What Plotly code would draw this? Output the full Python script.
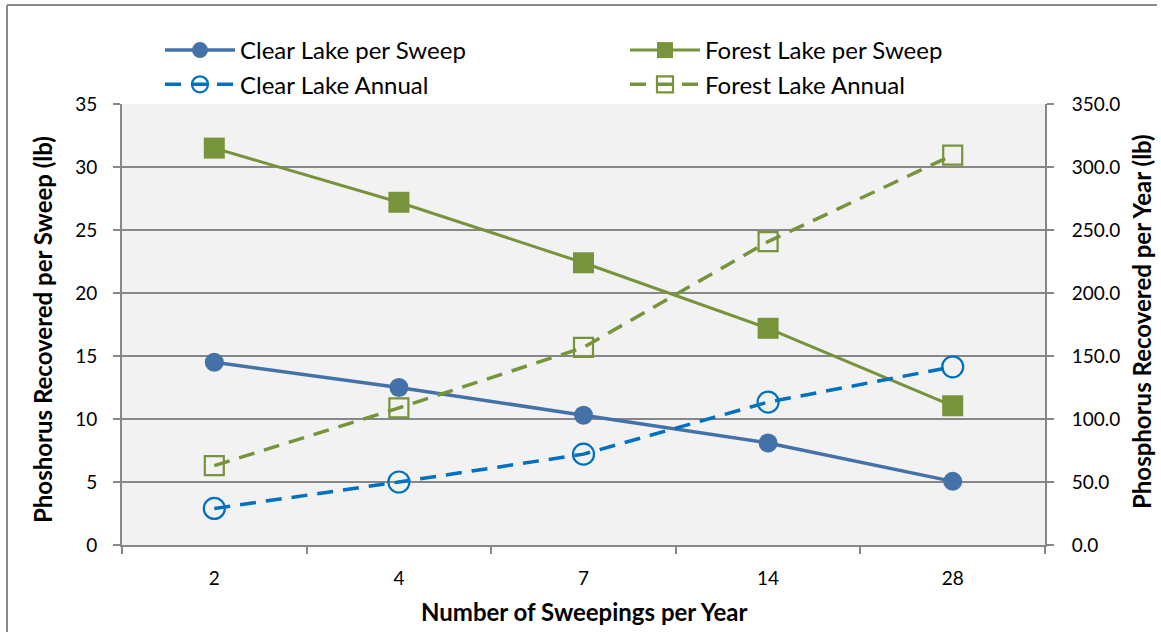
import plotly.graph_objects as go

# Sweeping frequency categories
sweeps = ["2", "4", "7", "14", "28"]

# Phosphorus recovered per sweep (lb)
clear_per_sweep = [14.5, 12.5, 10.3, 8.1, 5.05]
forest_per_sweep = [31.5, 27.2, 22.4, 17.2, 11.05]

# Phosphorus recovered per year (lb)
clear_annual = [29.0, 50.0, 72.1, 113.4, 141.4]
forest_annual = [63.0, 108.8, 156.8, 240.8, 309.4]

W, H = 1161, 632
ML, MR, MT, MB = 122, 116, 104, 87
PW, PH = W - ML - MR, H - MT - MB

BLUE = "#4472A8"
BLUE2 = "#0070C0"
GREEN = "#77933C"
GRID = "#878787"
FONT = "Lato, 'Open Sans', sans-serif"

fig = go.Figure()

fig.add_trace(go.Scatter(
    x=sweeps, y=clear_per_sweep, name="Clear Lake per Sweep",
    mode="lines+markers", legend="legend",
    line=dict(color=BLUE, width=3.5),
    marker=dict(symbol="circle", size=19, color=BLUE),
))
fig.add_trace(go.Scatter(
    x=sweeps, y=clear_annual, name="Clear Lake Annual", yaxis="y2",
    mode="lines+markers", legend="legend",
    line=dict(color=BLUE2, width=3.5, dash="16px,10px"),
    marker=dict(symbol="circle-open", size=21, color=BLUE2, line=dict(width=2.2)),
))
fig.add_trace(go.Scatter(
    x=sweeps, y=forest_per_sweep, name="Forest Lake per Sweep",
    mode="lines+markers", legend="legend2",
    line=dict(color=GREEN, width=3),
    marker=dict(symbol="square", size=21, color=GREEN),
))
fig.add_trace(go.Scatter(
    x=sweeps, y=forest_annual, name="Forest Lake Annual", yaxis="y2",
    mode="lines+markers", legend="legend2",
    line=dict(color=GREEN, width=3.5, dash="16px,10px"),
    marker=dict(symbol="square-open", size=19, color=GREEN, line=dict(width=2.2)),
))

def px_x(p):
    return (p - ML) / PW

def px_y(p):
    return 1 - (p - MT) / PH

legend_common = dict(
    orientation="v", xanchor="left", yanchor="top",
    bgcolor="rgba(0,0,0,0)", itemwidth=70, tracegroupgap=0,
    font=dict(family=FONT, size=24, color="#000000"),
    traceorder="normal",
)

fig.update_layout(
    width=W, height=H,
    margin=dict(l=ML, r=MR, t=MT, b=MB, pad=0),
    paper_bgcolor="white",
    plot_bgcolor="#F2F2F2",
    font=dict(family=FONT, size=19, color="#000000"),
    legend=dict(x=px_x(160), y=px_y(28), **legend_common),
    legend2=dict(x=px_x(625), y=px_y(28), **legend_common),
    xaxis=dict(
        type="category", range=[-0.5, 4.5],
        showgrid=False, showline=True, linecolor=GRID, linewidth=2,
        ticks="outside", tickson="boundaries", ticklen=7, tickcolor=GRID, tickwidth=2,
        ticklabelstandoff=15, mirror=False,
        tickfont=dict(size=19),
    ),
    yaxis=dict(
        range=[0, 35], dtick=5, showgrid=True, gridcolor=GRID, gridwidth=2,
        showline=True, linecolor=GRID, linewidth=2, zeroline=False,
        ticks="outside", ticklen=7, tickcolor=GRID, tickwidth=2,
        ticklabelstandoff=12, tickfont=dict(size=19),
    ),
    yaxis2=dict(
        range=[0, 350], dtick=50, tickformat=".1f", overlaying="y", side="right",
        showgrid=False, showline=True, linecolor=GRID, linewidth=2, zeroline=False,
        ticks="outside", ticklen=7, tickcolor=GRID, tickwidth=2,
        ticklabelstandoff=14, tickfont=dict(size=19),
    ),
    annotations=[
        dict(text="<b>Number of Sweepings per Year</b>", xref="paper", yref="paper",
             x=0.5, y=px_y(611), xanchor="center", yanchor="middle", showarrow=False,
             font=dict(size=24)),
        dict(text="<b>Phoshorus Recovered per Sweep (lb)</b>", xref="paper", yref="paper",
             x=px_x(42), y=px_y(330), xanchor="center", yanchor="middle", showarrow=False,
             textangle=-90, font=dict(size=24)),
        dict(text="<b>Phosphorus Recovered per Year (lb)</b>", xref="paper", yref="paper",
             x=px_x(1141), y=px_y(322), xanchor="center", yanchor="middle", showarrow=False,
             textangle=-90, font=dict(size=24)),
    ],
    shapes=[
        dict(type="line", xref="paper", yref="paper", x0=px_x(7), x1=px_x(7),
             y0=px_y(5), y1=px_y(640), line=dict(color="#898989", width=2)),
        dict(type="line", xref="paper", yref="paper", x0=px_x(7), x1=px_x(1157),
             y0=px_y(5), y1=px_y(5), line=dict(color="#898989", width=2)),
    ],
)

fig.write_html("out.html")
